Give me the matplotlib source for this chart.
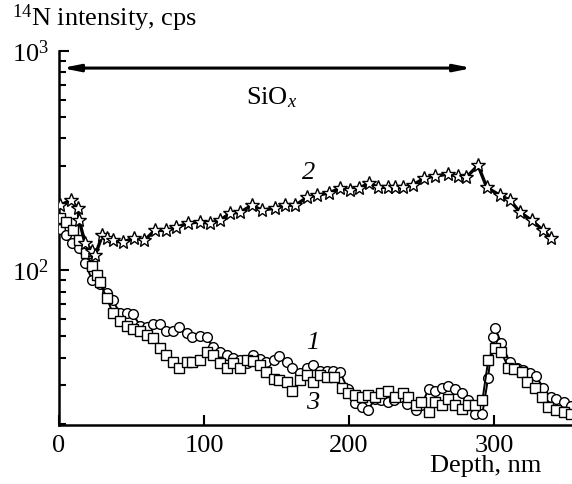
import numpy as np
import matplotlib
matplotlib.use("Agg")
import matplotlib.pyplot as plt
from matplotlib.ticker import LogLocator, NullFormatter, FixedLocator

plt.rcParams['font.family'] = ['Liberation Serif', 'DejaVu Serif']
plt.rcParams['mathtext.fontset'] = 'custom'
plt.rcParams['mathtext.rm'] = 'Liberation Serif'
plt.rcParams['mathtext.it'] = 'Liberation Serif:italic'

# curve 1 (circles)
depth1 = [1, 5, 9, 14, 18, 23, 28, 33, 37, 42, 47, 51, 56, 61, 65, 70, 74, 79, 83, 88,
          92, 97, 102, 106, 111, 116, 120, 125, 130, 134, 139, 143, 148, 152, 157, 161,
          166, 171, 175, 180, 185, 189, 194, 199, 204, 209, 213, 218, 222, 227, 231, 235,
          240, 246, 250, 255, 259, 264, 268, 273, 278, 282, 287, 292, 296, 299, 301, 305,
          311, 316, 320, 325, 329, 334, 339, 343, 348, 353]
n1 = [155, 145, 133, 126, 108, 90, 87, 79, 73, 64, 64, 63, 56, 55, 57, 57, 53, 53, 55, 51.5,
      49.5, 50, 49.8, 44.5, 42.3, 41, 40, 38.8, 37.6, 41.3, 39.6, 38, 38.8, 40.5, 38, 35.7,
      33.9, 35.7, 36.8, 34.9, 34.9, 34.9, 34.2, 28.9, 24.7, 23.7, 23, 26, 25.5, 25, 25.5, 26.3,
      24.5, 23, 24.2, 28.9, 28.3, 29.2, 29.8, 28.9, 27.7, 25.5, 22.2, 22.2, 32.4, 49.4, 54.3, 46.4,
      38, 36, 35, 34, 32.8, 29.2, 26.3, 25.8, 25, 24]

# curve 2 (stars)
depth2 = [1, 8, 13, 14, 18, 23, 25, 30, 33, 37, 44, 52, 59, 66, 74, 81, 89, 97, 104, 111,
          118, 125, 133, 140, 149, 156, 163, 171, 178, 186, 194, 201, 207, 214, 220, 227,
          232, 237, 244, 252, 259, 268, 275, 281, 289, 295, 304, 311, 318, 326, 334, 339]
n2 = [198, 209, 192, 169, 133, 123, 117, 145, 140, 137, 134, 141, 137, 152, 152, 157, 164, 166,
      164, 169, 182, 184, 198, 188, 192, 198, 198, 215, 220, 225, 237, 232, 237, 250, 239, 239,
      239, 239, 245, 263, 269, 274, 269, 266, 301, 239, 220, 209, 184, 169, 152, 141]

# curve 3 (squares)
depth3 = [1, 5, 10, 14, 19, 23, 26, 28, 33, 37, 42, 47, 51, 56, 61, 65, 70, 74, 79, 83,
          88, 92, 97, 102, 106, 111, 116, 120, 125, 130, 134, 139, 143, 148, 152, 157, 161,
          166, 171, 175, 180, 185, 190, 195, 199, 204, 209, 213, 218, 222, 227, 232, 237,
          241, 246, 250, 255, 259, 264, 268, 273, 278, 282, 287, 292, 296, 301, 305, 310,
          314, 319, 323, 328, 333, 337, 343, 348, 353]
n3 = [173, 166, 152, 137, 120, 105, 95, 88, 75, 64, 59, 56, 54, 53, 50.5, 48.9, 44, 41, 38, 35.7,
      38, 38, 38.8, 42.3, 41, 37.6, 36, 37.6, 36, 38.8, 38.4, 36.8, 34.2, 32.1, 31.6, 30.8, 28.3,
      31.6, 33.2, 30.8, 33.2, 32.5, 32.5, 29.2, 27.7, 26.9, 26.3, 26.9, 26.3, 27.7, 28.3, 26.3,
      27.7, 26.3, 24.2, 25, 22.5, 25, 24.2, 26, 24.2, 23.4, 24.2, 24.2, 25.5, 38.8, 44, 42.3,
      36, 35.3, 34.2, 30.8, 29.2, 26.3, 23.7, 23, 22.5, 22]

fig = plt.figure(figsize=(5.72, 4.84), dpi=100)
ax = fig.add_axes([0.103, 0.1219, 0.897, 0.7727])

ax.plot(depth1, n1, color='black', lw=1.4, marker='o', ms=7, mfc='white', mec='black',
        mew=1.0, zorder=3)
ax.plot(depth3, n3, color='black', lw=1.4, marker='s', ms=6.5, mfc='white', mec='black',
        mew=1.0, zorder=3)
ax.plot(depth2, n2, color='black', lw=2.4, marker='*', ms=10.5, mfc='white', mec='black',
        mew=1.0, zorder=4)

ax.set_yscale('log')
ax.set_xlim(0, 353.8)
ax.set_ylim(19.7, 1000)

ax.spines['top'].set_visible(False)
ax.spines['right'].set_visible(False)
for s in ['left', 'bottom']:
    ax.spines[s].set_linewidth(1.8)

ax.xaxis.set_major_locator(FixedLocator([0, 100, 200, 300]))
ax.yaxis.set_major_locator(LogLocator(base=10, numticks=5))
ax.yaxis.set_minor_locator(LogLocator(base=10, subs=np.arange(2, 10), numticks=10))
ax.yaxis.set_minor_formatter(NullFormatter())
ax.tick_params(axis='both', which='major', direction='in', length=7, width=1.5,
               labelsize=19, pad=7)
ax.tick_params(axis='y', which='minor', direction='in', length=5, width=1.5)
ax.tick_params(axis='x', which='minor', bottom=False)

# SiOx layer arrow
ax.annotate('', xy=(2, 836), xytext=(285, 836),
            arrowprops=dict(arrowstyle='<|-|>,head_length=1.0,head_width=0.2',
                            lw=2.2, color='black', shrinkA=0, shrinkB=0))
ax.text(147, 610, r'SiO$_{\mathit{x}}$', fontsize=19, ha='center', va='center')

ax.text(172, 277, '2', fontsize=19, style='italic', ha='center', va='center')
ax.text(175, 46.4, '1', fontsize=19, style='italic', ha='center', va='center')
ax.text(175, 24.9, '3', fontsize=19, style='italic', ha='center', va='center')

fig.text(12 / 572, 1 - 18 / 484, r'$^{14}$N intensity, cps', fontsize=19,
         ha='left', va='center')
fig.text(541 / 572, 1 - 466 / 484, 'Depth, nm', fontsize=19, ha='right', va='center')

fig.savefig('out.png', dpi=100)
